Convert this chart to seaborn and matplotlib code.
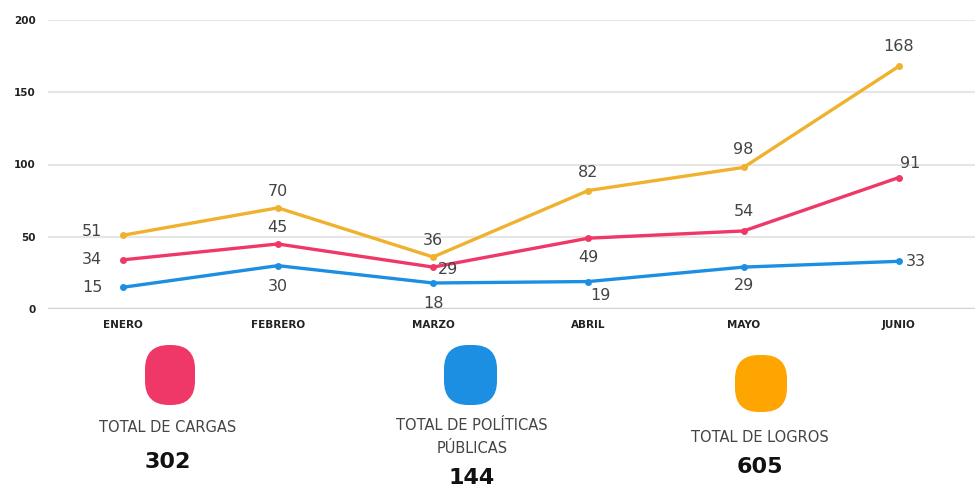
import matplotlib
matplotlib.use("Agg")
import matplotlib.pyplot as plt
from matplotlib.patches import FancyBboxPatch
import pandas as pd
import seaborn as sns

meses = ["ENERO", "FEBRERO", "MARZO", "ABRIL", "MAYO", "JUNIO"]
cargas = [34, 45, 29, 49, 54, 91]
politicas = [15, 30, 18, 19, 29, 33]
logros = [51, 70, 36, 82, 98, 168]
totales = [302, 144, 605]
nombres = ["TOTAL DE CARGAS", "TOTAL DE POLÍTICAS\nPÚBLICAS", "TOTAL DE LOGROS"]

c_cargas = "#EF3867"
c_politicas = "#1C8FE2"
c_logros = "#EFB12E"
c_logros_box = "#FFA502"

df = pd.concat([
    pd.DataFrame({"mes": meses, "valor": cargas, "serie": "cargas"}),
    pd.DataFrame({"mes": meses, "valor": politicas, "serie": "politicas"}),
    pd.DataFrame({"mes": meses, "valor": logros, "serie": "logros"}),
])

sns.set_theme(style="white")
plt.rcParams["font.family"] = ["DejaVu Sans"]

fig = plt.figure(figsize=(9.76, 4.88), dpi=100)
ax = fig.add_axes([48 / 976, (488 - 309) / 488, 927 / 976, 289 / 488])

sns.lineplot(data=df, x="mes", y="valor", hue="serie",
             palette={"cargas": c_cargas, "politicas": c_politicas, "logros": c_logros},
             marker="o", markersize=5, markeredgewidth=0, linewidth=2.4,
             legend=False, ax=ax, zorder=3)

ax.set_ylim(0, 200)
ax.set_xlim(-0.48, 5.49)
ax.set_yticks([0, 50, 100, 150, 200])
for y in [50, 100, 150, 200]:
    ax.axhline(y, color="#E6E6E6", lw=1.5, zorder=1)
ax.axhline(0, color="#D2D2D2", lw=2.5, zorder=1)
for s in ax.spines.values():
    s.set_visible(False)
ax.set_xlabel("")
ax.set_ylabel("")
ax.tick_params(length=0)
for lab in ax.get_xticklabels() + ax.get_yticklabels():
    lab.set_fontsize(7.5)
    lab.set_fontweight("bold")
    lab.set_color("#222222")
ax.tick_params(axis="y", pad=9)
ax.tick_params(axis="x", pad=8)

# label offsets in points (dx, dy)
off_cargas = [(-22, 0), (0, 12), (11, -2), (0, -14), (0, 14), (8, 10)]
off_politicas = [(-22, 0), (0, -15), (0, -15), (9, -10), (0, -13), (12, 0)]
off_logros = [(-22, 3), (0, 12), (0, 12), (0, 13), (0, 13), (0, 14)]

for vals, offs in [(cargas, off_cargas), (politicas, off_politicas), (logros, off_logros)]:
    for i, (v, o) in enumerate(zip(vals, offs)):
        ax.annotate(str(v), (i, v), xytext=o, textcoords="offset points",
                    ha="center", va="center", fontsize=11.5, color="#444444")

boxes = [
    (1.45, 0.83, 0.50, 0.60, c_cargas),
    (4.44, 0.83, 0.53, 0.60, c_politicas),
    (7.35, 0.76, 0.52, 0.57, c_logros_box),
]
for x0, y0, w, h, c in boxes:
    fig.patches.append(FancyBboxPatch((x0, y0), w, h,
                                      boxstyle="round,pad=0,rounding_size=0.24",
                                      transform=fig.dpi_scale_trans, fc=c, ec="none"))

# name and total positions (pixels from top-left)
name_pos = [(168, 428), (472, 437), (760, 437)]
total_pos = [(168, 462), (472, 478), (760, 467)]
for n, t, (nx, ny), (tx, ty) in zip(nombres, totales, name_pos, total_pos):
    fig.text(nx / 976, 1 - ny / 488, n, ha="center", va="center",
             fontsize=10.5, color="#444444", linespacing=1.6)
    fig.text(tx / 976, 1 - ty / 488, str(t), ha="center", va="center",
             fontsize=16, fontweight="bold", color="#111111")

fig.savefig("out.png", dpi=100)
